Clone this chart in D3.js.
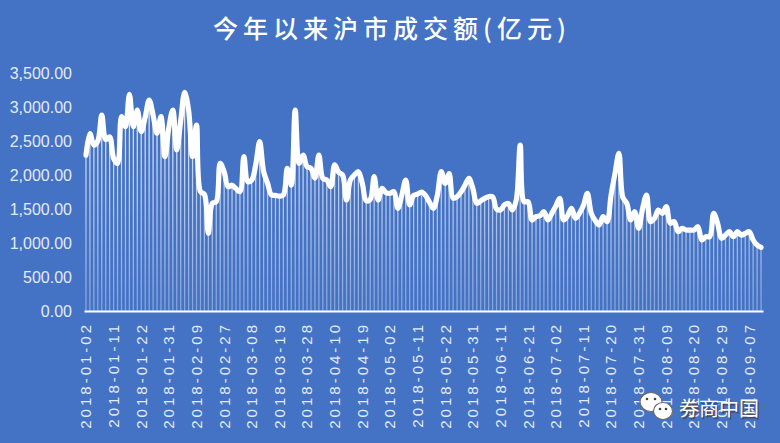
<!DOCTYPE html>
<html>
<head>
<meta charset="utf-8">
<script src="https://cdn.jsdelivr.net/npm/d3@7/dist/d3.min.js"></script>
<style>
html,body{margin:0;padding:0;background:#4472C4;}
svg{display:block;}
</style>
</head>
<body>
<svg id="chart" width="780" height="443"></svg>
<script>
const title = "今年以来沪市成交额(亿元)";

const dates = [
"2018-01-02","2018-01-03","2018-01-04","2018-01-05","2018-01-08","2018-01-09","2018-01-10","2018-01-11","2018-01-12","2018-01-15","2018-01-16","2018-01-17","2018-01-18","2018-01-19","2018-01-22","2018-01-23","2018-01-24","2018-01-25","2018-01-26","2018-01-29","2018-01-30","2018-01-31",
"2018-02-01","2018-02-02","2018-02-05","2018-02-06","2018-02-07","2018-02-08","2018-02-09","2018-02-12","2018-02-13","2018-02-14","2018-02-22","2018-02-23","2018-02-26","2018-02-27","2018-02-28",
"2018-03-01","2018-03-02","2018-03-05","2018-03-06","2018-03-07","2018-03-08","2018-03-09","2018-03-12","2018-03-13","2018-03-14","2018-03-15","2018-03-16","2018-03-19","2018-03-20","2018-03-21","2018-03-22","2018-03-23","2018-03-26","2018-03-27","2018-03-28","2018-03-29","2018-03-30",
"2018-04-02","2018-04-03","2018-04-04","2018-04-09","2018-04-10","2018-04-11","2018-04-12","2018-04-13","2018-04-16","2018-04-17","2018-04-18","2018-04-19","2018-04-20","2018-04-23","2018-04-24","2018-04-25","2018-04-26","2018-04-27",
"2018-05-02","2018-05-03","2018-05-04","2018-05-07","2018-05-08","2018-05-09","2018-05-10","2018-05-11","2018-05-14","2018-05-15","2018-05-16","2018-05-17","2018-05-18","2018-05-21","2018-05-22","2018-05-23","2018-05-24","2018-05-25","2018-05-28","2018-05-29","2018-05-30","2018-05-31",
"2018-06-01","2018-06-04","2018-06-05","2018-06-06","2018-06-07","2018-06-08","2018-06-11","2018-06-12","2018-06-13","2018-06-14","2018-06-15","2018-06-19","2018-06-20","2018-06-21","2018-06-22","2018-06-25","2018-06-26","2018-06-27","2018-06-28","2018-06-29",
"2018-07-02","2018-07-03","2018-07-04","2018-07-05","2018-07-06","2018-07-09","2018-07-10","2018-07-11","2018-07-12","2018-07-13","2018-07-16","2018-07-17","2018-07-18","2018-07-19","2018-07-20","2018-07-23","2018-07-24","2018-07-25","2018-07-26","2018-07-27","2018-07-30","2018-07-31",
"2018-08-01","2018-08-02","2018-08-03","2018-08-06","2018-08-07","2018-08-08","2018-08-09","2018-08-10","2018-08-13","2018-08-14","2018-08-15","2018-08-16","2018-08-17","2018-08-20","2018-08-21","2018-08-22","2018-08-23","2018-08-24","2018-08-27","2018-08-28","2018-08-29","2018-08-30","2018-08-31",
"2018-09-03","2018-09-04","2018-09-05","2018-09-06","2018-09-07","2018-09-10","2018-09-11","2018-09-12"
];

const turnover = [
2290,2610,2440,2500,2880,2520,2560,2245,2170,2860,2710,3186,2710,2956,2637,2850,3103,2882,2613,2858,2270,2700,
2956,2368,2800,3216,2950,2270,2735,1755,1716,1142,1583,1608,2172,2049,1828,
1850,1800,1755,2270,1902,1926,2150,2490,2050,1877,1706,1700,1690,1706,2098,1850,2956,2171,2294,2122,2098,1955,
2294,1951,1926,1828,2150,2040,2000,1632,1930,2000,2049,1877,1620,1640,1975,1632,1804,1740,
1730,1755,1510,1700,1926,1559,1700,1720,1750,1700,1600,1510,1700,2049,1877,2020,1657,1680,1750,1850,1951,1804,
1583,1620,1657,1680,1680,1500,1485,1560,1580,1485,1632,2441,1607,1607,1338,1387,1400,1460,1338,1436,
1540,1657,1338,1400,1510,1362,1436,1550,1730,1436,1330,1265,1387,1314,1700,2020,2320,1670,1583,1338,1460,1216,
1510,1706,1314,1362,1485,1436,1534,1290,1314,1167,1216,1190,1190,1190,1240,1044,1093,1093,1437,1290,1068,1117,1167,
1093,1167,1117,1140,1167,1044,970,936
];

const xTickLabels = [
"2018-01-02","2018-01-11","2018-01-22","2018-01-31","2018-02-09","2018-02-27","2018-03-08","2018-03-19","2018-03-28",
"2018-04-10","2018-04-19","2018-05-02","2018-05-11","2018-05-22","2018-05-31","2018-06-11","2018-06-21",
"2018-07-02","2018-07-11","2018-07-20","2018-07-31","2018-08-09","2018-08-20","2018-08-29","2018-09-07"
];
const yTicks = [0,500,1000,1500,2000,2500,3000,3500];
const watermark = "券商中国";

(function(){
const svg = d3.select("#chart");
const W = 780, H = 443;
const pLeft = 84, pRight = 763, pTop = 73, pBottom = 311;

svg.append("rect").attr("width",W).attr("height",H).attr("fill","#4472C4");

const defs = svg.append("defs");
const grad = defs.append("linearGradient").attr("id","barGrad")
  .attr("gradientUnits","userSpaceOnUse").attr("x1",0).attr("y1",pTop).attr("x2",0).attr("y2",pBottom);
grad.append("stop").attr("offset","0%").attr("stop-color","#ffffff").attr("stop-opacity",0.95);
grad.append("stop").attr("offset","100%").attr("stop-color","#ffffff").attr("stop-opacity",0.35);

const x = d3.scaleBand().domain(dates).range([pLeft,pRight]).paddingInner(0.68).paddingOuter(0.34);
const y = d3.scaleLinear().domain([0,3500]).range([pBottom,pTop]);
const cx = d => x(d) + x.bandwidth()/2;

// title
svg.append("text").attr("x",W/2+2).attr("y",38).attr("text-anchor","middle")
  .attr("fill","#ffffff").attr("font-family","'Noto Sans CJK SC', sans-serif")
  .attr("font-size",25).attr("font-weight",500).attr("letter-spacing","5px")
  .text(title);

// bars
svg.append("g").selectAll("rect").data(dates).join("rect")
  .attr("x",d=>x(d)).attr("width",x.bandwidth())
  .attr("y",(d,i)=>y(turnover[i])).attr("height",(d,i)=>pBottom - y(turnover[i]))
  .attr("fill","url(#barGrad)");

// y axis
const yAxis = svg.append("g").attr("transform",`translate(${pLeft},0)`)
  .call(d3.axisLeft(y).tickValues(yTicks).tickSize(0).tickPadding(12).tickFormat(d3.format(",.2f")));
yAxis.select(".domain").remove();
yAxis.selectAll("text").attr("fill","#e3ebf9").attr("font-size",16)
  .attr("font-family","'Liberation Sans', Arial, sans-serif");

// x axis
const xAxis = svg.append("g").attr("transform",`translate(0,${pBottom})`)
  .call(d3.axisBottom(x).tickValues(xTickLabels).tickSize(0));
xAxis.select(".domain").attr("stroke","#ffffff").attr("stroke-width",2.2);
xAxis.selectAll("text")
  .attr("fill","#e3ebf9").attr("font-size",15)
  .attr("font-family","'Liberation Sans', Arial, sans-serif")
  .attr("letter-spacing","3px")
  .attr("text-anchor","end")
  .attr("transform","rotate(-90)")
  .attr("x",-11).attr("y",0).attr("dy","0.36em");

// line
const line = d3.line().x((d,i)=>cx(dates[i])).y(d=>y(d)).curve(d3.curveCatmullRom.alpha(0.5));
svg.append("path").datum(turnover).attr("d",line)
  .attr("fill","none").attr("stroke","#ffffff").attr("stroke-width",5.2)
  .attr("stroke-linejoin","round").attr("stroke-linecap","round");

// watermark
const wm = svg.append("g");
const bub = wm.append("g").attr("stroke","#6b6b6b").attr("stroke-width",1.2).attr("fill","#ffffff");
bub.append("ellipse").attr("cx",651).attr("cy",402).attr("rx",11).attr("ry",9.5);
bub.append("ellipse").attr("cx",663).attr("cy",411).attr("rx",9.5).attr("ry",8.5);
wm.append("g").attr("fill","#444").selectAll("circle")
  .data([[647,399],[655,399],[660,409],[666,409]]).join("circle")
  .attr("cx",d=>d[0]).attr("cy",d=>d[1]).attr("r",1.3);
wm.append("text").attr("x",680.5).attr("y",417.5).attr("fill","#444").attr("opacity",0.8)
  .attr("font-family","'Noto Sans CJK SC', sans-serif").attr("font-size",20)
  .text(watermark);
wm.append("text").attr("x",679).attr("y",416).attr("fill","#ffffff")
  .attr("font-family","'Noto Sans CJK SC', sans-serif").attr("font-size",20)
  .text(watermark);
})();
</script>
</body>
</html>
